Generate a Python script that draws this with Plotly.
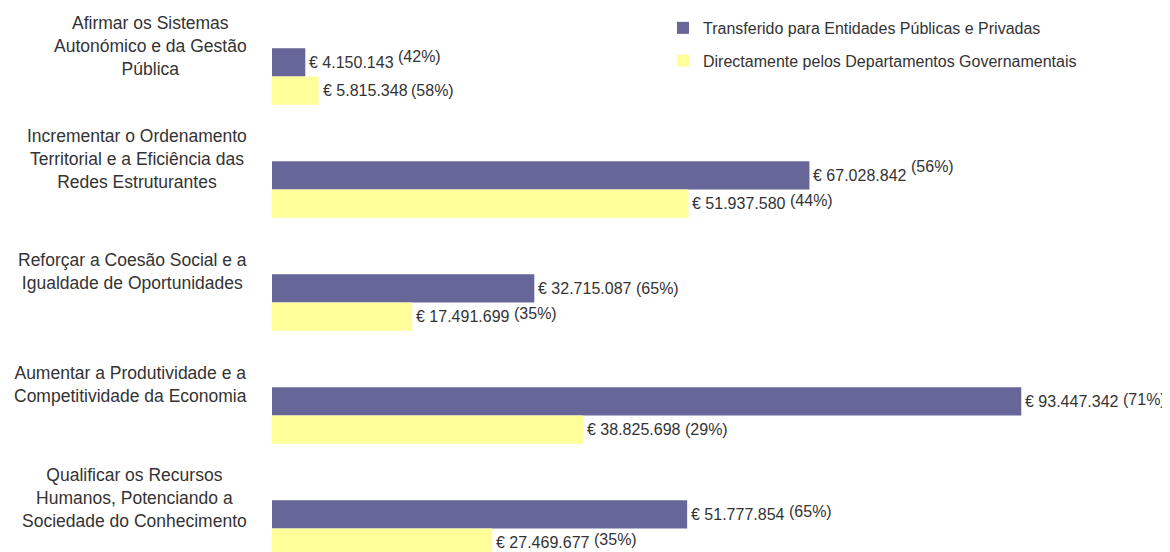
import plotly.graph_objects as go

categories = [
    "Afirmar os Sistemas<br>Autonómico e da Gestão<br>Pública",
    "Incrementar o Ordenamento<br>Territorial e a Eficiência das<br>Redes Estruturantes",
    "Reforçar a Coesão Social e a<br>Igualdade de Oportunidades",
    "Aumentar a Produtividade e a<br>Competitividade da Economia",
    "Qualificar os Recursos<br>Humanos, Potenciando a<br>Sociedade do Conhecimento",
]
transferido = [4150143, 67028842, 32715087, 93447342, 51777854]
directamente = [5815348, 51937580, 17491699, 38825698, 27469677]
pct_transferido = [42, 56, 65, 71, 65]
pct_directamente = [58, 44, 35, 29, 35]
series_names = ["Transferido para Entidades Públicas e Privadas",
                "Directamente pelos Departamentos Governamentais"]

# styling: vertical raise (px) of the percentage labels
raise_transferido = [6, 9, 0, 2, 3]
raise_directamente = [0, 3, 3, 0, 3]

PURPLE = "#666699"
YELLOW = "#FFFF99"
TXT = "#333333"
FONT = "Liberation Sans, Arial, sans-serif"
VAL_SIZE = 16
PCT_SIZE = 16
CAT_SIZE = 17.5

# Arial / Liberation Sans advance widths (em)
W = {"€": 0.556, " ": 0.278, ".": 0.278}
def text_width(s, size):
    return sum(W.get(c, 0.556) for c in s) * size

def euro(v):
    return "€ " + f"{v:,}".replace(",", ".")

fig = go.Figure()
fig.add_trace(go.Bar(y=list(range(len(categories))), x=transferido, orientation="h",
                     name=series_names[0], marker=dict(color=PURPLE, line=dict(width=0)),
                     legendgroup="a"))
fig.add_trace(go.Bar(y=list(range(len(categories))), x=directamente, orientation="h",
                     name=series_names[1], marker=dict(color=YELLOW, line=dict(width=0)),
                     legendgroup="b"))

annotations = []
for i, cat in enumerate(categories):
    annotations.append(dict(xref="paper", yref="y", x=0, y=i, xanchor="right", yanchor="middle",
                            xshift=-23, yshift=31, text=cat, align="center", showarrow=False,
                            font=dict(size=CAT_SIZE, color=TXT, family=FONT)))
    for vals, pcts, raises, off in ((transferido, pct_transferido, raise_transferido, -0.125),
                                    (directamente, pct_directamente, raise_directamente, 0.125)):
        t = euro(vals[i])
        annotations.append(dict(x=vals[i], y=i + off, xanchor="left", yanchor="middle",
                                xshift=2, text=t, showarrow=False,
                                font=dict(size=VAL_SIZE, color=TXT, family=FONT)))
        annotations.append(dict(x=vals[i], y=i + off, xanchor="left", yanchor="middle",
                                xshift=2 + text_width(t, VAL_SIZE) + 4, yshift=raises[i],
                                text=f"({pcts[i]}%)", showarrow=False,
                                font=dict(size=PCT_SIZE, color=TXT, family=FONT)))

# the page body adds an 8px offset, so the figure is 8px smaller and margins shifted
fig.update_layout(
    width=1162, height=544,
    margin=dict(l=264, r=16, t=12, b=0),
    paper_bgcolor="white", plot_bgcolor="white",
    barmode="group", bargap=0.5, bargroupgap=0,
    showlegend=True,
    legend=dict(x=0.4433, y=1.017, xanchor="left", yanchor="top",
                font=dict(size=16, color=TXT, family=FONT),
                traceorder="grouped", tracegroupgap=9, bgcolor="rgba(0,0,0,0)"),
    xaxis=dict(range=[0, 110e6], showticklabels=False, showgrid=False, zeroline=False,
               showline=False, fixedrange=True),
    yaxis=dict(range=[4.208, -0.5], showticklabels=False, showgrid=False, zeroline=False,
               showline=False),
    annotations=annotations,
    font=dict(family=FONT, color=TXT),
)

fig.write_html("out.html")
